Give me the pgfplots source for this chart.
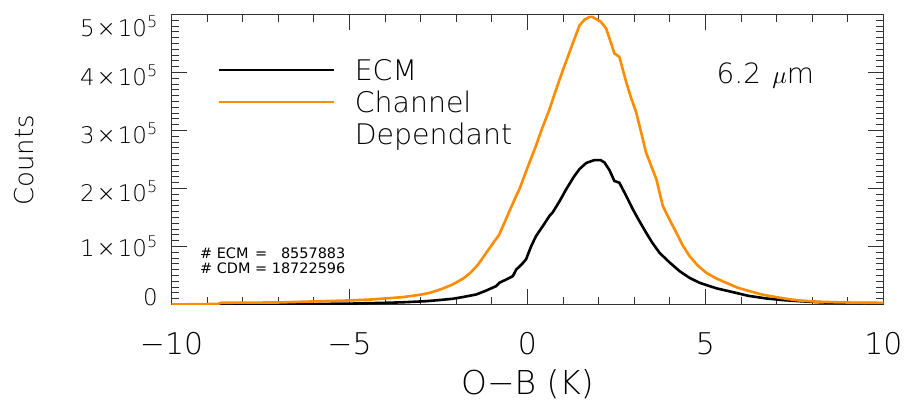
\documentclass[border=0pt]{standalone}
\usepackage{fontspec}
\setmainfont{DejaVu Sans ExtraLight}
\newfontfamily\notefont{DejaVu Sans}
\usepackage{pgfplots}
\pgfplotsset{compat=1.18}
\usepackage{pgfplotstable}

\definecolor{cdmorange}{RGB}{255,140,0}

% O-B histogram, ECM error model
\pgfplotstableread{
x y
-10.0 0
-6.0 0
-5.9 1000
-5.0 1500
-4.0 2900
-3.5 3800
-2.85 5700
-2.5 7500
-2.1 9900
-1.8 13000
-1.44 17300
-1.2 23000
-0.88 31700
-0.79 37500
-0.6 43000
-0.41 49000
-0.32 60000
-0.15 70000
-0.04 78000
0.1 100000
0.24 118000
0.45 137000
0.62 153000
0.71 159000
0.9 178000
1.09 199000
1.3 220000
1.46 233500
1.65 244000
1.88 249000
2.05 249000
2.16 245000
2.3 232000
2.44 213000
2.58 210000
2.75 190000
2.96 164000
3.15 143000
3.33 124000
3.5 107000
3.71 89000
4.0 72000
4.27 57600
4.55 46000
4.83 37500
5.3 28000
5.77 21300
6.2 15000
6.71 10400
7.2 7500
7.64 5700
8.3 3600
9.0 2500
10.0 2000
}\ecmdata

% O-B histogram, channel dependant error model
\pgfplotstableread{
x y
-10.0 0
-8.7 1000
-8.6 3000
-7.0 3500
-5.8 5700
-5.0 7000
-4.4 8600
-3.5 12700
-3.0 17000
-2.75 20000
-2.4 27000
-2.1 34600
-1.8 45000
-1.6 55000
-1.4 68000
-1.16 89000
-0.8 120000
-0.69 135000
-0.5 162000
-0.32 187000
-0.22 200000
0.0 236000
0.24 274000
0.4 302000
0.62 337000
0.8 370000
1.0 405000
1.18 435000
1.3 455000
1.46 481000
1.6 491000
1.75 496000
1.82 496000
1.9 493000
2.05 488000
2.21 476000
2.35 450000
2.44 433000
2.58 427000
2.77 384000
2.9 358000
3.05 332000
3.2 295000
3.33 262000
3.5 235000
3.62 216000
3.8 170000
4.0 145000
4.18 124000
4.35 103000
4.55 83600
4.8 66000
5.02 54800
5.3 45000
5.58 37500
5.9 29000
6.24 23000
6.6 17000
6.99 12700
7.3 9500
7.64 6900
8.1 5000
8.57 4000
9.2 3200
9.9 2900
10.0 2900
}\cdmdata

\begin{document}
\begin{tikzpicture}
\begin{axis}[
  scale only axis, width=712bp, height=290bp,
  at={(0,0)}, anchor=south west,
  xmin=-10, xmax=10, ymin=0, ymax=5e5,
  xtick={-10,-5,0,5,10},
  xticklabels={−10,−5,0,5,10},
  minor x tick num=4,
  ytick={0,1e5,2e5,3e5,4e5,5e5},
  yticklabels={
    \raisebox{12.5bp}{0},
    \raisebox{3.5bp}{1\kern2bp×\kern2bp10\textsuperscript{5}},
    2\kern2bp×\kern2bp10\textsuperscript{5},
    3\kern2bp×\kern2bp10\textsuperscript{5},
    4\kern2bp×\kern2bp10\textsuperscript{5},
    \raisebox{-8.5bp}{5\kern2bp×\kern2bp10\textsuperscript{5}}},
  minor y tick num=9,
  scaled y ticks=false,
  tick align=inside,
  major tick length=15.5bp, minor tick length=7.5bp,
  axis line style={line width=1.1bp, black!80},
  tick style={line width=1.1bp, black!80},
  xticklabel style={font=\fontsize{30}{36}\selectfont, anchor=base, inner sep=0pt, yshift=-50bp},
  yticklabel style={font=\fontsize{23}{27}\selectfont, anchor=base east, inner sep=0pt, xshift=-13.5bp, yshift=-13bp},
  xlabel={O−B (K)},
  ylabel={Counts},
  xlabel style={font=\fontsize{33}{40}\selectfont, at={(axis description cs:0.5,-0.312)}, anchor=base, inner sep=0pt},
  ylabel style={font=\fontsize{26}{31}\selectfont, at={(axis description cs:-0.2072,0.4966)}, anchor=center, inner sep=0pt},
  legend cell align=left,
  legend image code/.code={\draw[#1] (0bp,0bp) -- (115bp,0bp);},
  legend style={draw=none, fill=none, inner sep=0pt,
    at={(axis description cs:0.0653,0.85)}, anchor=north west,
    row sep=8bp, column sep=19bp,
    font=\fontsize{28.5}{34}\selectfont,
    nodes={inner sep=0pt, text height=22bp, text depth=2bp}},
]
\addplot[black, line width=2.6bp] table[x=x, y=y] {\ecmdata};
\addlegendentry{ECM}
\addplot[cdmorange, line width=2.6bp] table[x=x, y=y] {\cdmdata};
\addlegendentry{Channel}
\addlegendimage{empty legend}
\addlegendentry{Dependant}

\node[anchor=west, inner sep=0pt, font=\notefont\fontsize{14.5}{15.5}\selectfont]
  at (axis cs:-9.2,72000)
  {\begin{tabular}{@{}l@{ = }r@{}}\# ECM & 8557883\\ \# CDM & 18722596\end{tabular}};
\node[anchor=base west, inner sep=0pt, font=\fontsize{28}{34}\selectfont]
  at (axis cs:5.31,381400) {6.2\hspace{0.4em}{\fontsize{36}{40}\selectfont$\mu$}m};
\end{axis}
\pgfresetboundingbox
\path[use as bounding box] (-171.5bp,-100.5bp) rectangle (732.5bp,304.5bp);
\end{tikzpicture}
\end{document}
